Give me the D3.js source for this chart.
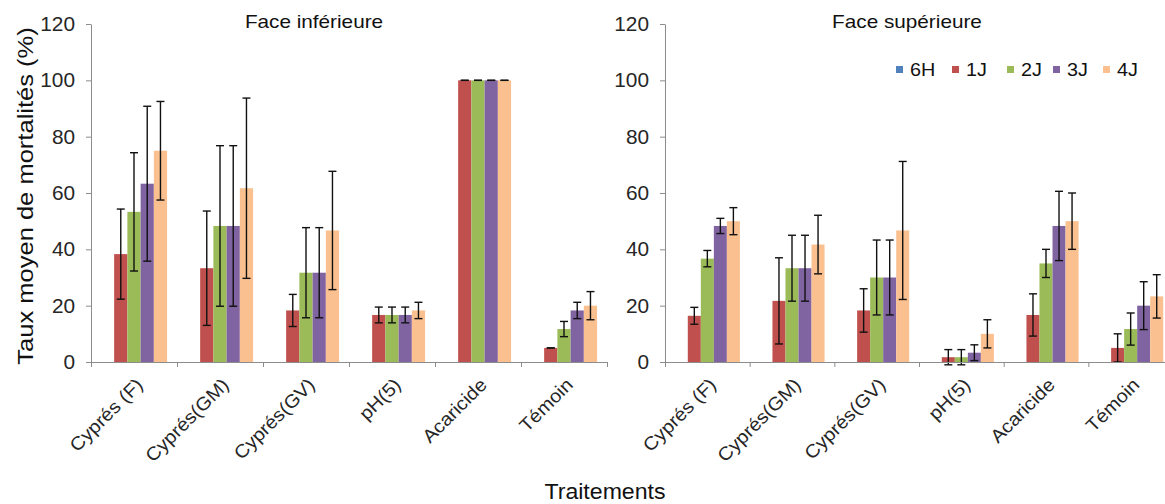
<!DOCTYPE html>
<html>
<head>
<meta charset="utf-8">
<script src="https://cdn.jsdelivr.net/npm/d3@7"></script>
<style>
  html, body { margin: 0; padding: 0; background: #fff; }
  svg { display: block; font-family: "Liberation Sans", Arial, sans-serif; }
</style>
</head>
<body>
<svg id="chart" width="1165" height="504"></svg>
<script>
// Treatments and observation times
const categories = ["Cyprés (F)", "Cyprés(GM)", "Cyprés(GV)", "pH(5)", "Acaricide", "Témoin"];
const series = ["6H", "1J", "2J", "3J", "4J"];
const yTicks = [0, 20, 40, 60, 80, 100, 120];

// Face inférieure: mean mortality (%) per time
const inf6H = [0, 0, 0, 0, 0, 0];
const inf1J = [38.3, 33.3, 18.3, 16.7, 100, 5];
const inf2J = [53.3, 48.3, 31.7, 16.7, 100, 11.7];
const inf3J = [63.3, 48.3, 31.7, 16.7, 100, 18.3];
const inf4J = [75, 61.7, 46.7, 18.3, 100, 20];
// Face inférieure: standard deviations
const infErr6H = [0, 0, 0, 0, 0, 0];
const infErr1J = [16, 20.3, 5.7, 2.8, 0, 0];
const infErr2J = [21, 28.5, 16, 2.8, 0, 2.7];
const infErr3J = [27.5, 28.5, 16, 2.8, 0, 2.9];
const infErr4J = [17.5, 32, 21, 2.9, 0, 5];

// Face supérieure: mean mortality (%) per time
const sup6H = [0, 0, 0, 0, 0, 0];
const sup1J = [16.4, 21.7, 18.3, 1.7, 16.7, 5];
const sup2J = [36.7, 33.3, 30, 1.7, 35, 11.7];
const sup3J = [48.3, 33.3, 30, 3.3, 48.3, 20];
const sup4J = [50, 41.7, 46.7, 10, 50, 23.3];
// Face supérieure: standard deviations
const supErr6H = [0, 0, 0, 0, 0, 0];
const supErr1J = [3, 15.3, 7.7, 2.7, 7.5, 5];
const supErr2J = [2.9, 11.7, 13.3, 2.7, 5, 5.7];
const supErr3J = [2.7, 11.7, 13.3, 2.8, 12.3, 8.5];
const supErr4J = [4.8, 10.4, 24.5, 5, 10, 7.7];

const colors = ["#4F81BD", "#C0504D", "#9BBB59", "#8064A2", "#FAC08F"];
const axisColor = "#8c8c8c";
const textColor = "#262626";

const svg = d3.select("#chart");

// widen glyphs along the text direction
function stretch(sel, k) {
  sel.each(function () {
    const len = this.getComputedTextLength();
    d3.select(this).attr("textLength", len * k).attr("lengthAdjust", "spacingAndGlyphs");
  });
}

function buildRows(vals, errs) {
  return categories.map((c, i) => ({
    cat: c,
    items: series.map((s, j) => ({ s, v: vals[j][i], e: errs[j][i] }))
  }));
}

function panel(opts) {
  const { x0, x1, title, titleX, rows } = opts;
  const y = d3.scaleLinear().domain([0, 120]).range([362, 24]);
  const xCat = d3.scaleBand().domain(categories).range([x0, x1]).padding(0);
  const xSer = d3.scaleBand().domain(series).range([0, xCat.bandwidth()])
    .paddingInner(0).paddingOuter(0.75);
  const xEdge = d3.scaleLinear().domain([0, categories.length]).range([x0, x1]);

  const g = svg.append("g");

  // bars
  const grp = g.selectAll("g.cat").data(rows).join("g")
    .attr("class", "cat")
    .attr("transform", d => `translate(${xCat(d.cat)},0)`);
  grp.selectAll("rect").data(d => d.items).join("rect")
    .attr("x", d => xSer(d.s))
    .attr("width", xSer.bandwidth())
    .attr("y", d => y(d.v))
    .attr("height", d => y(0) - y(d.v))
    .attr("fill", (d, i) => colors[i]);

  // error bars
  const eb = grp.selectAll("g.err").data(d => d.items.filter(it => it.s !== "6H")).join("g")
    .attr("class", "err")
    .attr("transform", d => `translate(${xSer(d.s) + xSer.bandwidth() / 2},0)`)
    .attr("stroke", "#111").attr("stroke-width", 1.4);
  eb.append("line").attr("x1", 0).attr("x2", 0)
    .attr("y1", d => y(d.v + d.e)).attr("y2", d => y(d.v - d.e));
  eb.append("line").attr("x1", -4).attr("x2", 4)
    .attr("y1", d => y(d.v + d.e)).attr("y2", d => y(d.v + d.e));
  eb.append("line").attr("x1", -4).attr("x2", 4)
    .attr("y1", d => y(d.v - d.e)).attr("y2", d => y(d.v - d.e));

  // y axis
  const ya = g.append("g").attr("transform", `translate(${x0},0)`)
    .call(d3.axisLeft(y).tickValues(yTicks).tickSize(5).tickPadding(11).tickSizeOuter(0));
  ya.select(".domain").attr("stroke", axisColor);
  ya.selectAll(".tick line").attr("stroke", axisColor);
  ya.selectAll(".tick text").attr("font-size", 20).attr("fill", textColor)
    .attr("font-family", "Liberation Sans, Arial, sans-serif").call(stretch, 1.04);

  // x axis with ticks between categories
  const xa = g.append("g").attr("transform", `translate(0,${y(0)})`)
    .call(d3.axisBottom(xEdge).tickValues(d3.range(categories.length + 1))
      .tickSize(5).tickSizeOuter(0).tickFormat(""));
  xa.select(".domain").attr("stroke", axisColor);
  xa.selectAll(".tick line").attr("stroke", axisColor);

  // rotated category labels
  g.selectAll("text.cat").data(categories).join("text")
    .attr("class", "cat")
    .attr("text-anchor", "end")
    .attr("font-size", 18.5)
    .attr("fill", textColor)
    .attr("transform", d => `translate(${xCat(d) + xCat.bandwidth() / 2 + 10},${y(0) + 24}) rotate(-45)`)
    .text(d => d)
    .call(stretch, 1.08);

  // panel title
  g.append("text").attr("x", titleX).attr("y", 28).attr("text-anchor", "middle")
    .attr("font-size", 18.5).attr("fill", "#111").text(title).call(stretch, 1.12);
}

panel({
  x0: 91, x1: 607, title: "Face inférieure", titleX: 314,
  rows: buildRows([inf6H, inf1J, inf2J, inf3J, inf4J], [infErr6H, infErr1J, infErr2J, infErr3J, infErr4J])
});
panel({
  x0: 665, x1: 1173, title: "Face supérieure", titleX: 907,
  rows: buildRows([sup6H, sup1J, sup2J, sup3J, sup4J], [supErr6H, supErr1J, supErr2J, supErr3J, supErr4J])
});

// legend
const legendX = [896, 952, 1007, 1053, 1103];
const lg = svg.append("g").selectAll("g").data(series).join("g")
  .attr("transform", (d, i) => `translate(${legendX[i]},0)`);
lg.append("rect").attr("x", 0).attr("y", 66).attr("width", 7).attr("height", 7)
  .attr("fill", (d, i) => colors[i]);
lg.append("text").attr("x", 14).attr("y", 76).attr("font-size", 18).attr("fill", "#111")
  .text(d => d).call(stretch, 1.1);

// axis titles
svg.append("text")
  .attr("transform", "translate(33,196) rotate(-90)")
  .attr("text-anchor", "middle").attr("font-size", 22).attr("fill", "#111")
  .text("Taux moyen de mortalités (%)").call(stretch, 1.16);

svg.append("text").attr("x", 605).attr("y", 499).attr("text-anchor", "middle")
  .attr("font-size", 22).attr("fill", "#111").text("Traitements").call(stretch, 1.05);
</script>
</body>
</html>
